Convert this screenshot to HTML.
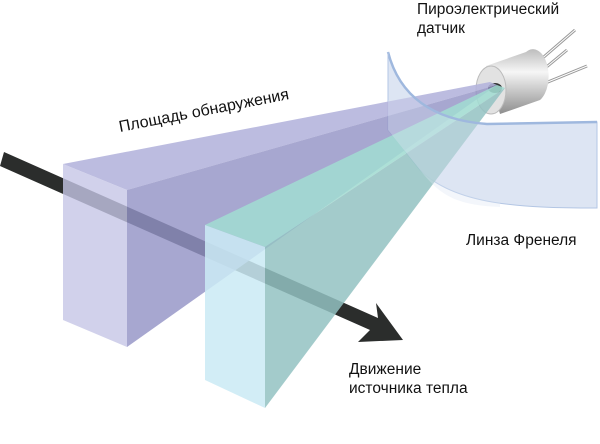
<!DOCTYPE html>
<html><head><meta charset="utf-8"><style>
html,body{margin:0;padding:0;background:#fff;width:600px;height:444px;overflow:hidden}
text{font-family:"Liberation Sans",sans-serif;fill:#111}
</style></head><body>
<svg width="600" height="444" viewBox="0 0 600 444" xmlns="http://www.w3.org/2000/svg">
<defs>
<linearGradient id="cyl" x1="0" y1="0" x2="0" y2="1">
<stop offset="0" stop-color="#bdbdbd"/><stop offset="0.35" stop-color="#f6f6f6"/><stop offset="1" stop-color="#8e8e8e"/>
</linearGradient>
</defs>
<!-- lens back part -->
<path d="M388,52 Q405,118 487,124 L597,122 L597,208 C520,208 455,205 420,170 L388,130 Z" fill="#dde5f3" stroke="#b3c6e4" stroke-width="1"/>
<!-- sensor pins -->
<g stroke="#999" stroke-width="3" fill="none">
<line x1="538" y1="62" x2="575" y2="30"/><line x1="538" y1="74" x2="567" y2="50"/><line x1="543" y1="84" x2="587" y2="66"/>
</g>
<g stroke="#fff" stroke-width="1" fill="none">
<line x1="538" y1="62" x2="575" y2="30"/><line x1="538" y1="74" x2="567" y2="50"/><line x1="543" y1="84" x2="587" y2="66"/>
</g>
<!-- sensor body -->
<path d="M486,66 L526,52 A14,24 0 0 1 540,100 L500,114 Z" fill="url(#cyl)"/>
<ellipse cx="491" cy="90" rx="15" ry="24" fill="#e2e2e2" stroke="#bbb"/>
<ellipse cx="495" cy="88" rx="7" ry="5" fill="#333"/>
<!-- arrow -->
<polygon points="4,152 378,318 376,303 403,340 358,342 370,330 0,166" fill="#2b2d2c"/>
<!-- purple box -->
<polygon points="63,164 127,190 497,85 490,82" fill="#b3b3dc" opacity="0.88"/>
<polygon points="127,190 497,85 127,347" fill="#9494c6" opacity="0.82"/>
<polygon points="63,164 127,190 127,347 63,320" fill="#c6c6e6" opacity="0.8"/>
<!-- teal box -->
<polygon points="205,225 265,247 505,88 497,85" fill="#a2dcd2" opacity="0.88"/>
<polygon points="265,247 505,88 265,408" fill="#93c2c2" opacity="0.85"/>
<polygon points="205,225 265,247 265,408 205,380" fill="#cbeaf4" opacity="0.86"/>
<!-- lens front overlay -->
<path d="M388,52 Q405,118 487,124 L500,124 L500,207 C455,205 440,195 420,170 L388,130 Z" fill="#dde5f3" opacity="0.35"/>
<path d="M388,52 Q405,118 487,124 L597,122" fill="none" stroke="#9fb8de" stroke-width="2.5"/>
<line x1="388" y1="52" x2="388" y2="100" stroke="#b3c6e4"/>
<!-- labels -->
<text x="417" y="14" font-size="15.5">Пироэлектрический</text>
<text x="417" y="33" font-size="15.5">датчик</text>
<text x="120" y="132" font-size="16" transform="rotate(-11 120 132)">Площадь обнаружения</text>
<text x="466" y="245" font-size="15.5">Линза Френеля</text>
<text x="349" y="374" font-size="15.5">Движение</text>
<text x="349" y="393" font-size="15.5">источника тепла</text>
</svg>
</body></html>
